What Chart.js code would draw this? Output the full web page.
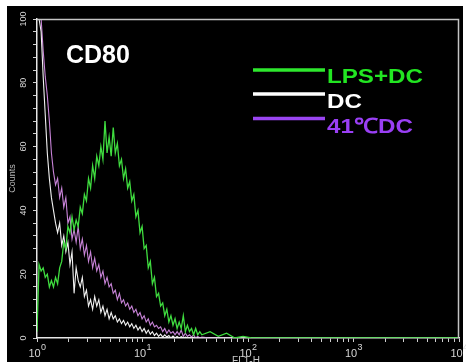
<!DOCTYPE html>
<html>
<head>
<meta charset="utf-8">
<script src="https://cdn.jsdelivr.net/npm/chart.js@4.4.1/dist/chart.umd.min.js"></script>
<style>
html,body{margin:0;padding:0;background:#fff;}
#wrap{width:466px;height:362px;}
</style>
</head>
<body>
<div id="wrap"><canvas id="c" width="466" height="362"></canvas></div>
<script>
// FL1-H channels (1024 channels over 4 decades)
const channels = [0,5,10,15,20,25,30,35,40,45,
  50,55,60,65,70,75,80,85,90,95,
  100,105,110,115,120,125,130,135,140,145,
  150,155,160,165,170,175,180,185,190,195,
  200,205,210,215,220,225,230,235,240,245,
  250,255,260,265,270,275,280,285,290,295,
  300,305,310,315,320,325,330,335,340,345,
  350,355,360,365,370,375,380,385,390,395,
  400,
  420,440,460,480,500,520,1023];

const lpsDC = [2,23,21,22,19,20,16,18,16,19,
  17,22,24,30,28,35,33,38,34,37,
  35,41,39,45,43,50,47,54,50,57,
  54,60,56,68,58,63,57,66,58,61,
  54,56,50,53,47,49,43,45,38,40,
  33,35,28,29,22,24,17,19,13,14,
  10,11,7,9,5,7,4,6,3,5,
  3,7,2,4,2,3,1,3,1,2,
  1,
  2,0.5,1.5,0,0.5,0,0];

const dc = [100,100,96,82,70,58,50,44,40,36,
  33,36,29,32,27,30,23,27,14,22,
  18,16,19,13,15,10,12,9,13,10,
  12,8,10,7,9,6,8,6,7,5,
  6,4.5,5.5,4,5,3.5,4.5,3,4,2.5,
  3.5,2,3,1.5,2.5,1.2,2,0.8,1.5,0.5,
  1.2,0.3,1,0.3,0.8,0,0.6,0,0.5,0,
  0.4,0,0.3,0,0,0,0,0,0,0,
  0,
  0,0,0,0,0,0,0];

const dc41 = [100,100,100,90,82,76,68,58,52,48,
  50,44,47,41,44,36,38,31,34,30,
  35,28,31,26,29,24,27,22,25,21,
  23,19,21,17,19,16,17,14,15,12,
  14,11,12,10,11,9,10,8,9,7,
  8,6,7,5,6,4,5,3.5,4,3,
  3.5,2,3,1.5,2.5,1.5,2,1,2,1,
  2.5,0.5,1.5,0.5,1,0.3,1,0,0.5,0,
  0.3,
  0,0,0,0,0,0,0];

const seriesNames = ['LPS+DC','DC','41\u2103DC'];
const yLabels = [0,20,40,60,80,100];
const xDecades = [0,1,2,3,4];
const xTickValues = [];
for (const d of [0,1,2,3]) for (let m=1;m<=9;m++) xTickValues.push(m*Math.pow(10,d));
xTickValues.push(10000);

const FONT = '"Liberation Sans", Arial, sans-serif';
const toPts = arr => channels.map((c,i)=>({x:Math.pow(10,c/256), y:arr[i]}));

const decor = {
  id:'decor',
  beforeDraw(chart){
    const ctx = chart.ctx;
    ctx.save();
    ctx.fillStyle='#ffffff'; ctx.fillRect(0,0,chart.width,chart.height);
    ctx.fillStyle='#000000'; ctx.fillRect(7,6,456,356);
    ctx.restore();
  },
  afterDraw(chart){
    const ctx = chart.ctx, a = chart.chartArea;
    const xs = chart.scales.x, ys = chart.scales.y;
    ctx.save();
    // frame top and right
    ctx.strokeStyle='#c4c4c4'; ctx.lineWidth=1.5;
    ctx.beginPath(); ctx.moveTo(a.left, a.top+0.5); ctx.lineTo(a.right-0.5, a.top+0.5); ctx.lineTo(a.right-0.5, a.bottom); ctx.stroke();
    // y labels rotated
    ctx.fillStyle='#d6d6d6'; ctx.font='9px '+FONT; ctx.textAlign='center'; ctx.textBaseline='middle';
    for (const v of yLabels){
      const y = ys.getPixelForValue(v);
      ctx.save(); ctx.translate(24,y); ctx.rotate(-Math.PI/2); ctx.fillText(String(v),0,0); ctx.restore();
    }
    // Counts
    ctx.fillStyle='#b8b8b8'; ctx.font='9px '+FONT;
    ctx.save(); ctx.translate(13,(a.top+a.bottom)/2); ctx.rotate(-Math.PI/2); ctx.fillText('Counts',0,0); ctx.restore();
    // x labels 10^k
    ctx.fillStyle='#d6d6d6'; ctx.textBaseline='alphabetic'; ctx.textAlign='left';
    for (const k of xDecades){
      const x = xs.getPixelForValue(Math.pow(10,k));
      ctx.font='11px '+FONT; const w1 = ctx.measureText('10').width;
      ctx.font='9px '+FONT; const w2 = ctx.measureText(String(k)).width;
      const x0 = x - (w1+w2)/2;
      ctx.font='11px '+FONT; ctx.fillText('10', x0, 357);
      ctx.font='9px '+FONT; ctx.fillText(String(k), x0+w1+0.5, 350);
    }
    // FL1-H
    ctx.fillStyle='#c8c8c8'; ctx.font='10px '+FONT; ctx.textAlign='center'; ctx.textBaseline='top';
    ctx.fillText('FL1-H', 246, 356);
    // CD80
    ctx.fillStyle='#ffffff'; ctx.font='bold 25px '+FONT; ctx.textAlign='left'; ctx.textBaseline='alphabetic';
    ctx.fillText('CD80', 66, 63);
    // legend
    const leg = [
      {line:'#2ee82e', text:'#22e622', y:70, base:83},
      {line:'#ffffff', text:'#ffffff', y:94, base:108},
      {line:'#9a45f2', text:'#9a3ff5', y:118.5, base:133}
    ];
    leg.forEach((l,i)=>{
      ctx.strokeStyle=l.line; ctx.lineWidth=3.5;
      ctx.beginPath(); ctx.moveTo(253,l.y); ctx.lineTo(325,l.y); ctx.stroke();
      ctx.save(); ctx.translate(327,l.base); ctx.scale(1.15,1);
      ctx.fillStyle=l.text; ctx.font='bold 21px '+FONT; ctx.fillText(seriesNames[i],0,0);
      ctx.restore();
    });
    ctx.restore();
  }
};

const tickGrid = {drawOnChartArea:false, drawTicks:true, tickLength:4, color:'#cfcfcf', lineWidth:1};

new Chart(document.getElementById('c'), {
  type:'line',
  data:{
    datasets:[
      {label:seriesNames[0], data:toPts(lpsDC), borderColor:'#3fdc3f', borderWidth:1.3},
      {label:seriesNames[1], data:toPts(dc), borderColor:'#f2f2f2', borderWidth:1.1},
      {label:seriesNames[2], data:toPts(dc41), borderColor:'#c883d8', borderWidth:1.1}
    ]
  },
  options:{
    responsive:false, animation:false, devicePixelRatio:1,
    layout:{padding:{top:19,right:7,left:0,bottom:0}},
    elements:{point:{radius:0}, line:{tension:0}},
    plugins:{legend:{display:false}, tooltip:{enabled:false}},
    scales:{
      x:{type:'logarithmic', min:1, max:10000, position:'bottom',
        afterBuildTicks(s){ s.ticks = xTickValues.map(v=>({value:v})); },
        afterFit(s){ s.height = 24; },
        ticks:{display:false}, grid:tickGrid, border:{color:'#e6e6e6', width:1.5}},
      y:{type:'linear', min:0, max:100, position:'left',
        afterFit(s){ s.width = 37; },
        ticks:{display:false, stepSize:4}, grid:tickGrid, border:{color:'#e6e6e6', width:1.5}}
    }
  },
  plugins:[decor]
});
</script>
</body>
</html>
